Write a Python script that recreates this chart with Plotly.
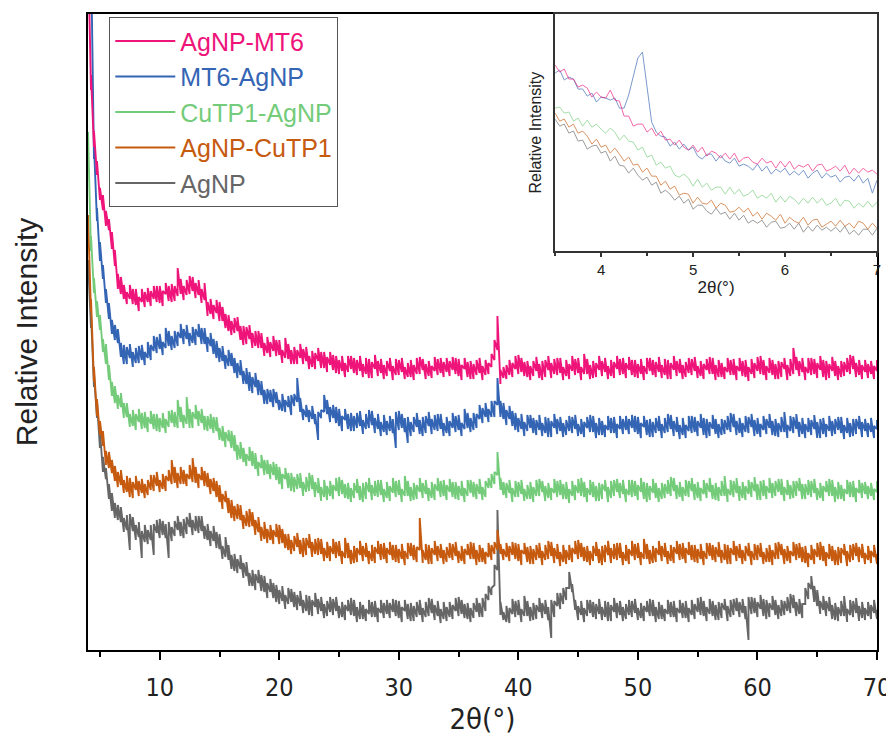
#%%
import numpy as np
import plotly.graph_objects as go

#%%
# XRD patterns (intensity in arbitrary units, curves already offset)
# 2theta sampled every 0.25 deg from 4 to 70
# the traces are very noisy, so for every step two readings are kept:
# one edge of the noise band (name) and the opposite edge (name_b)
two_theta = np.arange(4, 70.001, 0.25)

agnp_mt6 = [
    706, 560, 519, 475, 462, 440, 439, 420, 418, 384, 376, 356, 365, 358, 351, 361, 345, 353, 348, 358,
    348, 359, 351, 364, 347, 359, 356, 364, 348, 364, 382, 356, 364, 355, 374, 359, 367, 355, 361, 350,
    348, 336, 345, 337, 348, 329, 336, 319, 329, 332, 319, 324, 305, 323, 311, 317, 304, 319, 302, 307,
    297, 308, 299, 310, 295, 300, 312, 291, 300, 286, 300, 292, 301, 289, 294, 283, 297, 289, 298, 282,
    293, 285, 295, 277, 290, 279, 287, 294, 281, 277, 290, 279, 286, 292, 272, 288, 281, 289, 277, 285,
    289, 279, 284, 275, 290, 278, 283, 287, 273, 285, 276, 293, 280, 286, 274, 284, 279, 291, 277, 288,
    278, 289, 280, 292, 274, 285, 281, 288, 271, 286, 290, 277, 284, 275, 287, 296, 310, 334, 266, 283,
    285, 275, 287, 281, 295, 278, 288, 273, 284, 289, 279, 286, 270, 290, 280, 287, 276, 292, 277, 283,
    274, 286, 279, 291, 277, 283, 296, 276, 285, 272, 287, 280, 289, 278, 284, 274, 288, 281, 291, 276,
    287, 280, 290, 273, 286, 276, 284, 292, 279, 275, 288, 278, 285, 291, 271, 287, 280, 289, 277, 285,
    288, 277, 291, 279, 284, 274, 286, 280, 293, 276, 285, 273, 287, 283, 278, 290, 275, 284, 279, 289,
    273, 283, 276, 287, 279, 294, 275, 284, 277, 290, 286, 271, 288, 281, 285, 274, 302, 280, 289, 278,
    283, 277, 292, 276, 287, 280, 290, 270, 286, 279, 289, 284, 273, 288, 278, 295, 281, 287, 275, 285,
    278, 286, 276, 284, 279,
]
agnp_mt6_b = [
    691, 575, 503, 489, 450, 455, 424, 431, 401, 400, 361, 373, 351, 346, 365, 346, 361, 339, 361, 343,
    362, 344, 364, 348, 364, 344, 367, 349, 366, 349, 354, 371, 350, 370, 356, 373, 352, 370, 347, 367,
    334, 351, 331, 350, 329, 343, 322, 335, 315, 317, 333, 310, 324, 306, 325, 302, 319, 302, 317, 294,
    313, 293, 314, 294, 310, 287, 292, 306, 286, 303, 286, 306, 286, 303, 281, 299, 281, 302, 282, 298,
    278, 298, 280, 294, 276, 294, 273, 278, 294, 292, 275, 294, 273, 276, 291, 272, 295, 274, 291, 271,
    274, 292, 270, 291, 275, 292, 271, 273, 290, 270, 292, 276, 291, 271, 289, 272, 293, 275, 292, 273,
    292, 274, 293, 276, 291, 270, 292, 273, 289, 271, 275, 292, 270, 290, 276, 283, 290, 300, 280, 272,
    271, 290, 273, 294, 276, 292, 274, 289, 270, 274, 293, 272, 289, 273, 294, 272, 291, 275, 292, 270,
    290, 271, 294, 275, 292, 270, 276, 291, 271, 289, 273, 294, 274, 292, 271, 290, 272, 294, 275, 292,
    272, 293, 275, 290, 272, 291, 270, 276, 292, 290, 273, 293, 272, 275, 290, 271, 294, 274, 291, 271,
    273, 292, 275, 293, 272, 289, 271, 291, 276, 292, 270, 290, 273, 271, 292, 275, 291, 270, 292, 274,
    290, 269, 291, 272, 293, 276, 290, 270, 292, 275, 271, 289, 273, 292, 270, 291, 276, 293, 274, 292,
    270, 292, 275, 291, 272, 294, 273, 289, 272, 293, 274, 270, 289, 274, 292, 276, 294, 273, 290, 271,
    290, 272, 289, 271, 290,
]

mt6_agnp = [
    723, 683, 505, 429, 408, 371, 361, 331, 330, 325, 307, 307, 286, 303, 292, 298, 287, 304, 290, 298,
    292, 305, 299, 313, 301, 308, 322, 304, 314, 302, 318, 312, 321, 311, 317, 307, 321, 313, 322, 306,
    313, 304, 311, 292, 302, 289, 295, 300, 284, 277, 287, 275, 279, 282, 259, 273, 263, 270, 255, 260,
    261, 248, 261, 247, 250, 239, 250, 243, 255, 244, 272, 238, 241, 233, 240, 231, 236, 210, 240, 255,
    236, 243, 232, 243, 224, 234, 230, 236, 219, 234, 237, 224, 230, 221, 240, 225, 232, 221, 228, 218,
    229, 219, 231, 202, 239, 222, 232, 207, 228, 233, 223, 230, 214, 234, 224, 231, 220, 236, 221, 227,
    217, 229, 222, 234, 220, 227, 241, 222, 232, 220, 236, 231, 242, 233, 241, 233, 249, 272, 249, 231,
    240, 231, 239, 220, 232, 221, 228, 235, 222, 217, 230, 220, 227, 233, 213, 229, 222, 231, 219, 227,
    230, 219, 233, 221, 226, 216, 228, 222, 235, 218, 227, 215, 229, 225, 220, 232, 217, 226, 221, 231,
    220, 231, 222, 234, 216, 227, 223, 230, 213, 228, 232, 219, 226, 217, 236, 221, 229, 218, 225, 215,
    225, 219, 234, 218, 229, 222, 232, 212, 228, 221, 231, 226, 215, 230, 220, 237, 223, 229, 217, 227,
    218, 233, 223, 230, 216, 226, 220, 231, 222, 229, 214, 227, 218, 238, 225, 219, 233, 221, 228, 216,
    226, 218, 230, 221, 228, 212, 232, 226, 219, 229, 216, 220, 233, 225, 217, 227, 214, 231, 221, 228,
    219, 227, 218, 224, 221,
]
mt6_agnp_b = [
    709, 698, 491, 442, 389, 385, 347, 347, 316, 310, 321, 293, 305, 286, 306, 283, 302, 287, 305, 285,
    308, 290, 314, 297, 316, 295, 302, 319, 300, 319, 304, 326, 306, 325, 304, 323, 305, 326, 306, 322,
    298, 317, 296, 309, 288, 304, 281, 284, 297, 292, 272, 290, 266, 266, 278, 257, 277, 255, 269, 246,
    246, 260, 243, 258, 240, 256, 238, 254, 235, 256, 248, 252, 230, 245, 228, 244, 226, 238, 232, 238,
    250, 228, 245, 227, 241, 219, 241, 221, 237, 219, 222, 239, 216, 236, 222, 239, 217, 236, 214, 235,
    215, 234, 217, 238, 220, 236, 218, 233, 214, 218, 237, 216, 233, 217, 238, 216, 235, 219, 236, 214,
    233, 214, 237, 218, 235, 214, 221, 237, 218, 237, 222, 245, 227, 247, 228, 249, 233, 245, 233, 247,
    225, 244, 224, 237, 218, 236, 214, 219, 235, 232, 215, 235, 214, 217, 232, 213, 236, 216, 233, 213,
    215, 234, 217, 235, 214, 231, 213, 233, 218, 234, 212, 232, 215, 213, 234, 217, 233, 212, 234, 216,
    234, 216, 235, 218, 233, 212, 234, 215, 231, 213, 217, 234, 212, 232, 218, 235, 214, 233, 211, 232,
    212, 234, 217, 233, 214, 236, 215, 231, 214, 235, 216, 212, 231, 216, 234, 218, 236, 215, 232, 213,
    234, 217, 236, 214, 232, 213, 234, 216, 236, 215, 231, 213, 233, 218, 212, 234, 217, 236, 213, 232,
    212, 232, 215, 235, 212, 231, 216, 213, 234, 214, 231, 233, 217, 211, 232, 213, 231, 216, 234, 213,
    231, 213, 232, 212, 230,
]

cutp1_agnp = [
    502, 414, 357, 349, 320, 311, 306, 270, 268, 247, 255, 243, 247, 233, 236, 224, 236, 228, 237, 222,
    233, 226, 236, 219, 232, 222, 231, 239, 227, 223, 250, 228, 235, 253, 222, 238, 231, 239, 227, 234,
    234, 221, 233, 219, 222, 209, 218, 209, 219, 199, 205, 191, 202, 196, 189, 199, 181, 188, 182, 190,
    176, 186, 175, 186, 166, 176, 171, 177, 159, 173, 176, 162, 168, 158, 177, 161, 168, 157, 163, 153,
    164, 154, 165, 159, 173, 156, 166, 151, 162, 167, 157, 164, 148, 168, 158, 165, 154, 170, 155, 161,
    152, 164, 157, 169, 155, 161, 174, 154, 163, 150, 165, 158, 167, 156, 162, 152, 166, 159, 169, 154,
    165, 158, 168, 151, 164, 154, 162, 170, 157, 153, 166, 156, 163, 169, 162, 176, 178, 198, 172, 168,
    167, 157, 162, 153, 168, 156, 161, 165, 151, 163, 154, 171, 158, 164, 152, 162, 157, 169, 155, 166,
    151, 161, 154, 165, 157, 172, 153, 162, 155, 168, 164, 149, 166, 159, 163, 152, 170, 158, 167, 156,
    161, 155, 170, 154, 165, 158, 168, 148, 164, 157, 167, 162, 151, 166, 156, 173, 159, 165, 153, 163,
    154, 169, 159, 166, 152, 162, 156, 167, 158, 165, 150, 163, 154, 174, 161, 155, 169, 157, 164, 152,
    164, 156, 168, 159, 166, 150, 170, 164, 157, 167, 154, 158, 171, 163, 155, 165, 152, 169, 159, 166,
    166, 155, 169, 157, 162, 152, 164, 158, 171, 154, 163, 151, 165, 161, 156, 168, 153, 162, 157, 167,
    156, 164, 154, 161, 158,
]
cutp1_agnp_b = [
    518, 399, 372, 333, 335, 298, 286, 285, 254, 264, 241, 257, 232, 247, 223, 240, 220, 241, 221, 238,
    218, 239, 221, 236, 218, 237, 217, 223, 240, 238, 222, 243, 222, 226, 241, 222, 245, 224, 241, 220,
    219, 236, 217, 233, 210, 224, 203, 220, 202, 215, 190, 208, 188, 184, 203, 184, 197, 174, 195, 175,
    190, 171, 188, 170, 183, 161, 182, 162, 177, 158, 161, 177, 154, 173, 159, 175, 153, 172, 149, 170,
    150, 169, 151, 172, 154, 170, 152, 167, 148, 152, 171, 150, 167, 151, 172, 150, 169, 153, 170, 148,
    168, 149, 172, 153, 170, 148, 154, 169, 149, 167, 151, 172, 152, 170, 149, 168, 150, 172, 153, 170,
    150, 171, 153, 168, 150, 169, 148, 154, 170, 168, 151, 171, 150, 153, 172, 162, 166, 175, 160, 155,
    152, 170, 148, 169, 153, 170, 149, 151, 168, 148, 170, 154, 169, 149, 167, 150, 171, 153, 170, 151,
    168, 147, 169, 150, 171, 154, 168, 148, 170, 153, 149, 167, 151, 170, 148, 169, 154, 171, 152, 170,
    148, 170, 153, 169, 150, 172, 151, 167, 150, 171, 152, 148, 167, 152, 170, 154, 172, 151, 168, 149,
    170, 153, 172, 150, 168, 149, 170, 152, 172, 151, 167, 149, 169, 154, 148, 170, 153, 172, 149, 168,
    150, 170, 153, 173, 150, 169, 154, 151, 172, 152, 169, 171, 155, 149, 170, 151, 169, 154, 172, 151,
    151, 170, 153, 171, 150, 167, 149, 169, 154, 170, 148, 168, 151, 149, 170, 153, 169, 148, 170, 152,
    168, 151, 167, 150, 169,
]

agnp_cutp1 = [
    435, 338, 283, 234, 229, 204, 199, 198, 177, 169, 178, 165, 170, 174, 153, 168, 160, 169, 157, 166,
    170, 160, 175, 164, 170, 161, 174, 169, 190, 167, 177, 166, 180, 176, 171, 192, 167, 176, 170, 179,
    163, 171, 159, 169, 148, 156, 148, 152, 132, 144, 146, 130, 135, 124, 141, 124, 130, 118, 123, 111,
    121, 110, 120, 113, 125, 107, 116, 100, 110, 114, 103, 110, 93, 112, 102, 108, 96, 112, 96, 102,
    92, 104, 96, 108, 94, 99, 112, 92, 100, 87, 102, 95, 104, 93, 99, 89, 103, 96, 106, 91,
    102, 95, 105, 88, 101, 91, 99, 107, 94, 90, 103, 132, 100, 106, 86, 102, 95, 104, 92, 100,
    103, 92, 106, 94, 99, 89, 101, 95, 108, 91, 100, 88, 102, 98, 93, 105, 108, 120, 96, 101,
    93, 104, 95, 107, 89, 100, 96, 103, 86, 101, 105, 92, 99, 90, 109, 94, 102, 91, 98, 88,
    100, 90, 102, 96, 110, 93, 103, 88, 99, 104, 94, 101, 85, 105, 95, 102, 91, 107, 92, 98,
    89, 101, 94, 106, 92, 98, 111, 91, 100, 87, 102, 95, 104, 93, 99, 89, 103, 96, 106, 91,
    102, 95, 105, 88, 101, 91, 99, 107, 94, 90, 103, 93, 100, 106, 86, 102, 95, 104, 92, 100,
    104, 94, 99, 90, 105, 93, 98, 102, 88, 100, 91, 108, 95, 101, 89, 99, 94, 106, 92, 103,
    87, 97, 90, 101, 93, 108, 89, 98, 91, 104, 100, 85, 102, 95, 99, 88, 106, 94, 103, 92,
    97, 90, 99, 93, 96,
]
agnp_cutp1_b = [
    420, 351, 268, 251, 215, 219, 185, 182, 190, 184, 163, 180, 157, 158, 172, 152, 174, 154, 171, 152,
    155, 175, 159, 178, 158, 176, 159, 180, 166, 183, 162, 183, 166, 164, 185, 168, 183, 162, 183, 164,
    177, 156, 172, 153, 165, 141, 159, 137, 150, 129, 131, 145, 121, 139, 123, 138, 115, 133, 109, 128,
    107, 125, 106, 126, 106, 121, 102, 116, 96, 99, 117, 96, 112, 95, 116, 93, 111, 95, 111, 89,
    108, 89, 111, 92, 109, 86, 92, 107, 86, 104, 88, 109, 89, 107, 86, 105, 87, 109, 90, 107,
    87, 108, 90, 105, 87, 106, 85, 91, 107, 105, 88, 100, 87, 90, 105, 86, 109, 89, 106, 86,
    88, 107, 90, 108, 87, 104, 86, 106, 91, 107, 85, 105, 88, 86, 107, 90, 96, 100, 106, 90,
    107, 89, 108, 91, 106, 85, 107, 88, 104, 86, 90, 107, 85, 105, 91, 108, 87, 106, 84, 105,
    86, 105, 88, 109, 91, 107, 89, 104, 85, 89, 108, 87, 104, 88, 109, 87, 106, 90, 107, 85,
    105, 86, 109, 90, 107, 85, 91, 106, 86, 104, 88, 109, 89, 107, 86, 105, 87, 109, 90, 107,
    87, 108, 90, 105, 87, 106, 85, 91, 107, 105, 88, 108, 87, 90, 105, 86, 109, 89, 106, 86,
    89, 107, 85, 106, 90, 107, 86, 88, 105, 85, 107, 91, 106, 86, 104, 87, 108, 90, 107, 88,
    104, 83, 105, 86, 107, 90, 104, 84, 106, 89, 85, 103, 87, 106, 84, 105, 90, 107, 88, 106,
    86, 104, 87, 105, 86,
]

agnp = [
    376, 337, 263, 248, 202, 193, 171, 166, 139, 147, 145, 128, 132, 120, 136, 119, 125, 113, 119, 108,
    120, 110, 95, 117, 131, 115, 126, 92, 123, 129, 120, 128, 112, 133, 123, 130, 119, 134, 119, 124,
    110, 119, 109, 118, 101, 104, 113, 90, 95, 79, 91, 81, 87, 74, 77, 64, 76, 67, 75, 58,
    67, 58, 67, 48, 60, 49, 55, 62, 48, 43, 55, 44, 50, 55, 35, 50, 43, 51, 39, 46,
    49, 38, 51, 39, 44, 33, 45, 39, 52, 34, 43, 31, 45, 41, 36, 48, 33, 42, 37, 47,
    36, 47, 38, 50, 32, 43, 39, 46, 29, 44, 48, 35, 42, 33, 52, 37, 45, 34, 41, 31,
    43, 33, 45, 39, 53, 36, 46, 31, 42, 47, 38, 47, 33, 56, 50, 62, 85, 140, 48, 30,
    28, 42, 36, 49, 35, 41, 54, 34, 43, 30, 45, 38, 47, 36, 43, 12, 49, 44, 57, 46,
    62, 78, 58, 50, 44, 35, 42, 50, 37, 33, 46, 36, 43, 49, 29, 45, 38, 47, 35, 43,
    46, 35, 49, 37, 42, 32, 44, 38, 51, 34, 43, 31, 45, 41, 36, 48, 33, 42, 37, 47,
    32, 42, 35, 46, 38, 53, 34, 43, 36, 49, 45, 30, 47, 40, 44, 33, 51, 39, 48, 37,
    44, 10, 53, 37, 48, 41, 51, 31, 47, 40, 50, 45, 34, 49, 39, 56, 42, 48, 36, 46,
    46, 67, 61, 64, 44, 49, 40, 49, 39, 45, 30, 43, 34, 54, 41, 35, 49, 37, 44, 32,
    42, 34, 45, 37, 40,
]
agnp_b = [
    390, 322, 276, 232, 219, 178, 182, 151, 157, 132, 130, 143, 118, 135, 100, 133, 110, 128, 92, 125,
    106, 125, 126, 130, 112, 129, 112, 128, 109, 114, 134, 114, 131, 116, 137, 115, 134, 117, 134, 111,
    126, 104, 124, 102, 116, 91, 93, 105, 81, 96, 77, 95, 72, 88, 64, 80, 60, 80, 59, 74,
    52, 71, 52, 65, 46, 64, 41, 46, 61, 58, 40, 59, 37, 39, 54, 34, 57, 36, 53, 32,
    34, 53, 35, 53, 32, 48, 30, 50, 35, 50, 28, 48, 31, 29, 50, 33, 49, 28, 50, 32,
    50, 32, 51, 34, 49, 28, 50, 31, 47, 29, 33, 50, 28, 48, 34, 51, 30, 49, 27, 48,
    29, 48, 31, 52, 34, 50, 32, 47, 28, 32, 52, 33, 52, 39, 64, 55, 65, 80, 35, 38,
    44, 27, 51, 33, 50, 28, 34, 49, 29, 47, 31, 52, 32, 50, 30, 50, 33, 57, 41, 62,
    50, 62, 66, 40, 30, 49, 28, 34, 50, 48, 31, 51, 30, 33, 48, 29, 52, 32, 49, 29,
    31, 50, 33, 51, 30, 47, 29, 49, 34, 50, 28, 48, 31, 29, 50, 33, 49, 28, 50, 32,
    49, 28, 50, 31, 52, 35, 49, 29, 51, 34, 30, 48, 32, 51, 29, 50, 35, 52, 33, 51,
    31, 53, 36, 52, 33, 55, 34, 50, 33, 54, 35, 31, 50, 35, 53, 37, 55, 34, 51, 32,
    62, 51, 74, 48, 60, 36, 54, 34, 53, 31, 47, 29, 49, 34, 28, 50, 33, 52, 29, 48,
    30, 48, 31, 50, 31,
]

#%%
# inset: low angle region, 3.5 - 7 deg every 0.05 deg
inset_theta = np.round(np.arange(3.5, 7.0001, 0.05), 2)

inset_agnp_mt6 = [
    186, 179, 182, 172, 172, 164, 166, 163, 154, 159, 154, 153, 161, 151, 150, 135, 135, 125, 127, 127,
    119, 123, 115, 120, 111, 112, 106, 111, 104, 101, 106, 99, 104, 95, 100, 98, 93, 98, 92, 98,
    89, 93, 94, 89, 87, 93, 88, 90, 83, 90, 84, 90, 82, 86, 84, 87, 80, 86, 87, 80,
    82, 85, 80, 86, 77, 83, 78, 83, 79, 81, 77,
]
inset_mt6_agnp = [
    178, 181, 171, 174, 172, 162, 162, 155, 158, 149, 154, 153, 151, 153, 143, 143, 156, 176, 193, 199,
    166, 129, 119, 115, 114, 105, 109, 102, 107, 101, 104, 95, 92, 97, 97, 90, 96, 90, 88, 93,
    85, 87, 85, 81, 87, 80, 85, 77, 82, 79, 83, 76, 80, 76, 81, 73, 78, 81, 73, 78,
    74, 76, 69, 74, 75, 70, 76, 68, 73, 58, 71,
]
inset_cutp1_agnp = [
    143, 144, 138, 139, 130, 133, 125, 131, 124, 127, 122, 118, 123, 119, 111, 116, 110, 109, 101, 104,
    94, 96, 86, 89, 83, 85, 76, 74, 77, 73, 65, 72, 64, 68, 61, 64, 64, 57, 64, 57,
    62, 55, 57, 61, 53, 56, 53, 58, 49, 55, 49, 55, 52, 47, 53, 48, 54, 48, 53, 46,
    48, 53, 45, 51, 50, 43, 48, 44, 50, 44, 49,
]
inset_agnp_cutp1 = [
    138, 130, 132, 124, 127, 118, 120, 115, 107, 112, 104, 106, 98, 103, 97, 90, 94, 86, 87, 79,
    83, 75, 75, 66, 70, 62, 65, 56, 58, 57, 48, 54, 48, 47, 51, 43, 48, 46, 39, 40,
    44, 39, 43, 35, 39, 32, 38, 35, 31, 37, 28, 34, 30, 28, 34, 26, 31, 32, 24, 27,
    30, 25, 31, 25, 28, 23, 30, 28, 22, 28, 23,
]
inset_agnp = [
    132, 125, 127, 118, 120, 110, 111, 102, 105, 106, 98, 100, 90, 95, 86, 85, 78, 83, 76, 71,
    74, 66, 69, 58, 61, 57, 51, 55, 48, 52, 42, 46, 46, 40, 37, 43, 37, 39, 32, 38,
    31, 36, 28, 31, 28, 31, 24, 29, 30, 23, 24, 28, 22, 28, 19, 25, 20, 26, 21, 24,
    20, 24, 19, 25, 17, 21, 16, 22, 22, 16, 23,
]

names = ['AgNP-MT6', 'MT6-AgNP', 'CuTP1-AgNP', 'AgNP-CuTP1', 'AgNP']
colors = ['#ee1479', '#3464b4', '#74cc7a', '#c65a0f', '#666666']
main_data = [
    (agnp_mt6, agnp_mt6_b), (mt6_agnp, mt6_agnp_b), (cutp1_agnp, cutp1_agnp_b),
    (agnp_cutp1, agnp_cutp1_b), (agnp, agnp_b),
]
inset_data = [inset_agnp_mt6, inset_mt6_agnp, inset_cutp1_agnp, inset_agnp_cutp1, inset_agnp]

for aa, bb in main_data:
    assert len(aa) == len(two_theta) and len(bb) == len(two_theta)
for dd in inset_data:
    assert len(dd) == len(inset_theta)

#%%
fig = go.Figure()

# draw bottom curve first so AgNP-MT6 ends up on top
# at each 2theta the trace runs up from the low edge of the noise band to the high edge
xx = np.repeat(two_theta, 2)
for name, color, (aa, bb) in reversed(list(zip(names, colors, main_data))):
    yy = np.sort(np.column_stack([aa, bb]), axis=1).ravel()
    fig.add_trace(go.Scatter(
        x=xx, y=yy, mode='lines', name=f"<span style='color:{color}'>{name}</span>",
        line=dict(color=color, width=1.9),
    ))

for name, color, yy in reversed(list(zip(names, colors, inset_data))):
    fig.add_trace(go.Scatter(
        x=inset_theta, y=yy, mode='lines', showlegend=False, opacity=0.65,
        line=dict(color=color, width=1), xaxis='x2', yaxis='y2',
    ))

narrow = 'Liberation Sans Narrow, DejaVu Sans Condensed, Liberation Sans, Arial'

# the page keeps an 8px body margin, so the figure is 8px smaller and margins shifted
fig.update_layout(
    width=886, height=743,
    margin=dict(l=80, r=17, t=6, b=101),
    paper_bgcolor='white', plot_bgcolor='white',
    font=dict(family='Liberation Sans, Arial', color='#222222'),
    showlegend=True,
    legend=dict(
        x=0.027, y=0.995, xanchor='left', yanchor='top',
        traceorder='reversed', bordercolor='#555555', borderwidth=1,
        bgcolor='white', font=dict(size=25, family='Liberation Sans, Arial'),
        tracegroupgap=0, itemwidth=60,
    ),
    xaxis=dict(
        range=[4, 70], domain=[0, 1], automargin=False,
        showline=True, mirror=True, linecolor='black', linewidth=2,
        ticks='outside', ticklen=8, tickwidth=2, tickcolor='black',
        tick0=0, dtick=10, ticklabelstandoff=6,
        minor=dict(ticks='outside', ticklen=5, tickwidth=2, tick0=5, dtick=10, tickcolor='black'),
        tickfont=dict(size=25, family=narrow, color='#222222'),
        showgrid=False, zeroline=False,
        title=dict(text='2θ(°)', font=dict(size=29, family=narrow), standoff=2),
    ),
    yaxis=dict(
        range=[0, 636], domain=[0, 1], automargin=False,
        showline=True, mirror=True, linecolor='black', linewidth=2,
        ticks='', showticklabels=False, showgrid=False, zeroline=False,
        title=dict(text='Relative Intensity', font=dict(size=30), standoff=40),
    ),
    # inset axes
    xaxis2=dict(
        range=[3.5, 7], domain=[0.592, 1], anchor='y2', automargin=False,
        showline=True, mirror=True, linecolor='#333333', linewidth=1.5,
        ticks='outside', ticklen=4, tickwidth=1.5, tickcolor='#333333',
        tick0=0, dtick=1,
        minor=dict(ticks='outside', ticklen=3, tick0=0.5, dtick=1, tickcolor='#333333'),
        tickfont=dict(size=15), showgrid=False, zeroline=False,
        title=dict(text='2θ(°)', font=dict(size=17), standoff=4),
    ),
    yaxis2=dict(
        range=[0, 237], domain=[0.627, 1], anchor='x2', automargin=False,
        showline=True, mirror=True, linecolor='#333333', linewidth=1.5,
        ticks='', showticklabels=False, showgrid=False, zeroline=False,
        title=dict(text='Relative Intensity', font=dict(size=16), standoff=8),
    ),
)

fig.write_html("out.html")
